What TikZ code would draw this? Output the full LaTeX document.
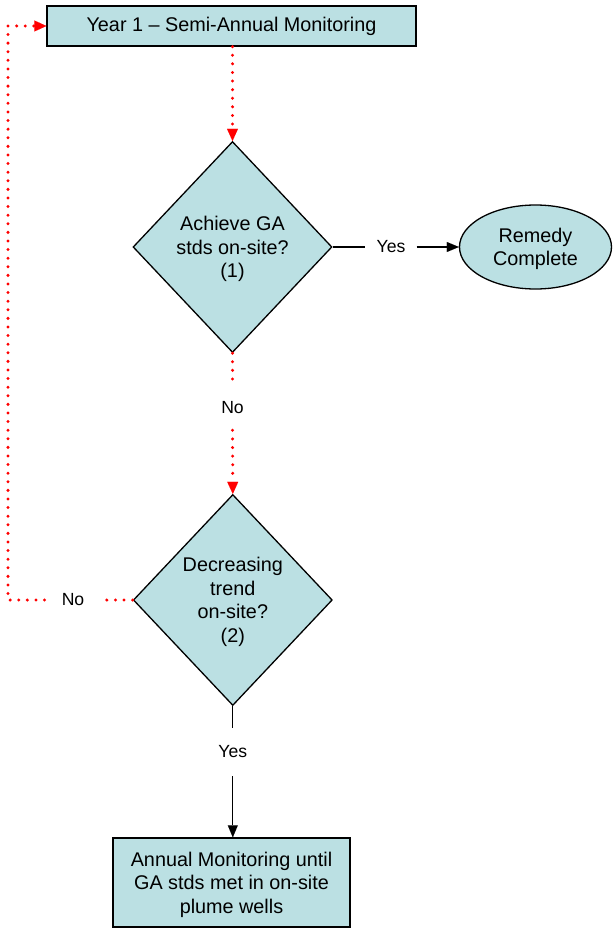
\documentclass[tikz,border=0pt]{standalone}
\usepackage{fontspec}
\setmainfont{Liberation Sans}
\usetikzlibrary{shapes.geometric,arrows.meta}
\definecolor{boxfill}{RGB}{187,224,227}
\tikzset{
  boxnode/.style={draw=black,line width=1.3pt,fill=boxfill,inner sep=0pt,align=center,font=\fontsize{19.8}{23.6}\selectfont},
  lowtext/.style={text depth=-2pt},
  decnode/.style={boxnode,lowtext,shape=diamond,minimum width=199pt,minimum height=211pt},
  endnode/.style={boxnode,lowtext,shape=ellipse,minimum width=152pt,minimum height=84pt},
  lbl/.style={font=\fontsize{17.6}{20}\selectfont,inner xsep=12pt,inner ysep=11pt},
  reddot/.style={draw=red,line width=3.3pt,line cap=round,dash pattern=on 0pt off 8.6pt},
  redtip/.style={-{Triangle[length=12pt,width=11pt,line width=0.01pt,fill=red]}},
  blkline/.style={draw=black,line width=1.1pt},
  blktip/.style={-{Triangle[length=12pt,width=10pt,line width=0.01pt]}}
}
\begin{document}
\begin{tikzpicture}[x=1pt,y=-1pt]
\useasboundingbox (0,0) rectangle (613,936);
\node[boxnode,minimum width=369pt,minimum height=40pt] (top) at (231.5,26) {Year 1 -- Semi-Annual Monitoring};
\node[decnode] (d1) at (232.5,247) {Achieve GA\\stds on-site?\\(1)};
\node[endnode] (rem) at (535.5,247) {Remedy\\Complete};
\node[decnode] (d2) at (232.8,600) {Decreasing\\trend\\on-site?\\(2)};
\node[boxnode,lowtext,minimum width=237pt,minimum height=89pt] (bot) at (231.5,882.5) {Annual Monitoring until\\GA stds met in on-site\\plume wells};
\node[lbl,inner xsep=11pt] (yes1) at (391,247) {Yes};
\node[lbl,inner ysep=16pt] (no1) at (232.5,408) {No};
\node[lbl,inner xsep=17pt] (no2) at (73,600) {No};
\node[lbl,inner ysep=18pt] (yes2) at (232.8,752) {Yes};
\coordinate (lp) at (8,300);
% connectors
\draw[reddot,redtip] (top.south -| d1.north) -- (d1.north);
\draw[reddot] (d1.south) -- (no1.north);
\draw[reddot,redtip] (no1.south) -- (d2.north);
\draw[reddot] (d2.west) -- (no2.east);
\draw[reddot,redtip] (no2.west) -| (lp) |- (top.west);
\draw[blkline] (d1.east) -- (yes1.west);
\draw[blkline,blktip] (yes1.east) -- (rem.west);
\draw[blkline] (d2.south) -- (yes2.north);
\draw[blkline,blktip] (yes2.south) -- (yes2.south |- bot.north);
\end{tikzpicture}
\end{document}
